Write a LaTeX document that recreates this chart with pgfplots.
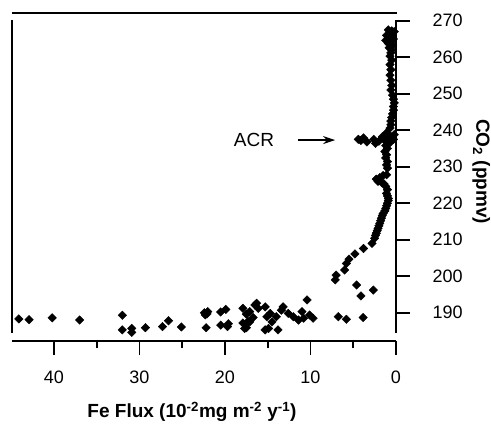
\documentclass[border=0pt]{standalone}
\usepackage{fontspec}
\setmainfont{Liberation Sans}
\usepackage{pgfplots}
\pgfplotsset{compat=1.18}
\usetikzlibrary{arrows.meta}

\pgfplotstableread{
x y
44.1 188.3
42.9 188.1
40.2 188.6
37.0 188.0
32.0 189.3
32.0 185.3
30.9 185.7
30.9 184.6
29.3 185.9
27.3 186.2
26.6 187.8
25.1 186.1
22.4 190.0
22.0 190.3
22.3 189.4
22.1 189.7
22.2 185.9
20.5 190.2
19.9 190.9
20.5 186.6
19.7 186.2
19.6 187.0
17.9 191.2
17.5 189.6
17.3 187.6
17.9 187.2
17.7 185.7
17.5 185.9
17.1 190.3
17.1 187.5
16.7 188.7
16.5 192.1
16.3 192.6
16.1 191.2
15.3 191.6
15.1 188.9
14.7 189.8
14.5 187.5
15.3 185.3
14.9 185.7
13.8 185.3
14.0 188.9
13.4 190.7
13.2 191.6
12.6 189.8
12.0 188.9
11.4 188.0
11.0 190.3
10.4 193.5
10.8 188.5
10.1 189.4
9.7 188.5
6.75 188.9
5.8 188.2
3.85 188.7
4.1 194.6
2.65 196.2
4.6 197.6
7.1 199.0
7.0 200.3
6.0 201.7
5.8 203.5
5.5 204.7
4.8 206.1
3.8 207.6
2.8 209.0
2.5 210.4
2.4 211.2
2.3 211.8
2.2 212.5
2.1 213.1
2.0 213.8
1.9 214.5
1.8 215.2
1.7 215.9
1.6 216.6
1.5 217.2
1.3 217.9
1.2 218.6
1.1 219.3
1.0 220.0
0.9 220.7
0.9 221.3
1.0 222.0
1.1 222.7
1.0 223.7
1.2 224.6
1.4 225.3
1.7 225.7
2.1 226.0
2.3 226.6
1.9 227.0
1.5 227.6
1.1 227.8
1.0 229.6
1.1 230.5
1.0 231.4
1.2 232.4
1.1 233.3
1.3 234.2
1.0 235.0
1.2 235.8
4.4 237.5
4.1 237.2
3.8 237.9
3.4 236.8
2.6 237.5
2.4 236.4
2.0 237.0
1.6 238.2
1.3 237.2
1.0 238.7
0.8 237.8
0.5 238.2
0.3 237.5
0.7 236.6
1.1 239.3
0.2 238.8
0.7 240.6
0.6 241.5
0.6 242.5
0.5 243.5
0.4 244.5
0.3 245.5
0.3 246.5
0.2 247.5
0.3 248.5
0.4 249.6
0.6 251.0
0.5 252.3
0.6 253.7
0.7 255.1
0.6 256.6
0.7 258.0
0.5 259.2
0.7 260.3
0.6 261.2
0.5 262.0
0.8 262.6
0.4 263.3
0.9 263.8
0.6 264.3
1.2 264.6
0.3 265.0
0.9 265.3
0.4 265.8
1.1 266.0
0.7 266.5
0.2 267.0
0.5 267.2
0.9 267.5
}\fedata

\begin{document}
\begin{tikzpicture}
\begin{axis}[
    scale only axis,
    width=384pt, height=321pt,
    x dir=reverse,
    xmin=0, xmax=44.9,
    ymin=182.25, ymax=270.2,
    axis x line*=bottom,
    axis y line*=right,
    y axis line style={draw=none},
    x axis line style={line width=1.8pt},
    xtick={0,10,20,30,40},
    minor xtick={5,15,25,35},
    ytick={190,200,...,270},
    tick align=outside,
    major tick length=14pt,
    minor tick length=7pt,
    tick style={black, line width=1.8pt},
    /pgf/number format/assume math mode=true,
    ticklabel style={font=\fontsize{18}{20}\selectfont},
    xticklabel style={yshift=-12pt},
    yticklabel style={xshift=19pt},
    xlabel={\textbf{Fe Flux (10\textsuperscript{-2}mg m\textsuperscript{-2} y\textsuperscript{-1})}},
    ylabel={\textbf{CO\textsubscript{2} (ppmv)}},
    label style={font=\fontsize{19}{22}\selectfont},
    xlabel style={xshift=-12pt, yshift=-12pt},
    ylabel style={rotate=180, xshift=-9pt, yshift=3pt},
    clip=false,
]
\addplot[only marks, mark=square*, mark size=3pt,
    mark options={rotate=45, fill=black, draw=black}] table[x=x, y=y] {\fedata};

% frame pieces
\draw[line width=1.8pt] (axis cs:44.9,272.1) -- (axis cs:-0.1,272.1);
\draw[line width=1.8pt] (axis cs:44.9,270.2) -- (axis cs:44.9,184.4);
\draw[line width=1.8pt] (axis cs:0,270.2) -- (axis cs:0,184.4);

% heavier ticks over the thin ones
\draw[line width=1.8pt] (axis cs:0,182.25) -- ([yshift=-14pt]axis cs:0,182.25);
\draw[line width=1.8pt] (axis cs:10,182.25) -- ([yshift=-14pt]axis cs:10,182.25);
\draw[line width=1.8pt] (axis cs:20,182.25) -- ([yshift=-14pt]axis cs:20,182.25);
\draw[line width=1.8pt] (axis cs:30,182.25) -- ([yshift=-14pt]axis cs:30,182.25);
\draw[line width=1.8pt] (axis cs:40,182.25) -- ([yshift=-14pt]axis cs:40,182.25);
\draw[line width=1.8pt] (axis cs:5,182.25) -- ([yshift=-7pt]axis cs:5,182.25);
\draw[line width=1.8pt] (axis cs:15,182.25) -- ([yshift=-7pt]axis cs:15,182.25);
\draw[line width=1.8pt] (axis cs:25,182.25) -- ([yshift=-7pt]axis cs:25,182.25);
\draw[line width=1.8pt] (axis cs:35,182.25) -- ([yshift=-7pt]axis cs:35,182.25);
\draw[line width=1.8pt] (axis cs:0,190) -- ([xshift=14pt]axis cs:0,190);
\draw[line width=1.8pt] (axis cs:0,200) -- ([xshift=14pt]axis cs:0,200);
\draw[line width=1.8pt] (axis cs:0,210) -- ([xshift=14pt]axis cs:0,210);
\draw[line width=1.8pt] (axis cs:0,220) -- ([xshift=14pt]axis cs:0,220);
\draw[line width=1.8pt] (axis cs:0,230) -- ([xshift=14pt]axis cs:0,230);
\draw[line width=1.8pt] (axis cs:0,240) -- ([xshift=14pt]axis cs:0,240);
\draw[line width=1.8pt] (axis cs:0,250) -- ([xshift=14pt]axis cs:0,250);
\draw[line width=1.8pt] (axis cs:0,260) -- ([xshift=14pt]axis cs:0,260);
\draw[line width=1.8pt] (axis cs:0,270) -- ([xshift=14pt]axis cs:0,270);

% annotation
\node[font=\fontsize{19}{22}\selectfont] at (axis cs:16.6,237.2) {ACR};
\draw[line width=1.2pt, -{Stealth[length=12pt, width=8pt]}] (axis cs:11.46,237.3) -- (axis cs:7.13,237.3);

\coordinate (bl) at (axis cs:44.9,182.25);
\coordinate (tr) at (axis cs:0,270.2);
\end{axis}
\pgfresetboundingbox
\path ([shift={(-12pt,-82pt)}]bl) rectangle ([shift={(95pt,20pt)}]tr);
\end{tikzpicture}
\end{document}
